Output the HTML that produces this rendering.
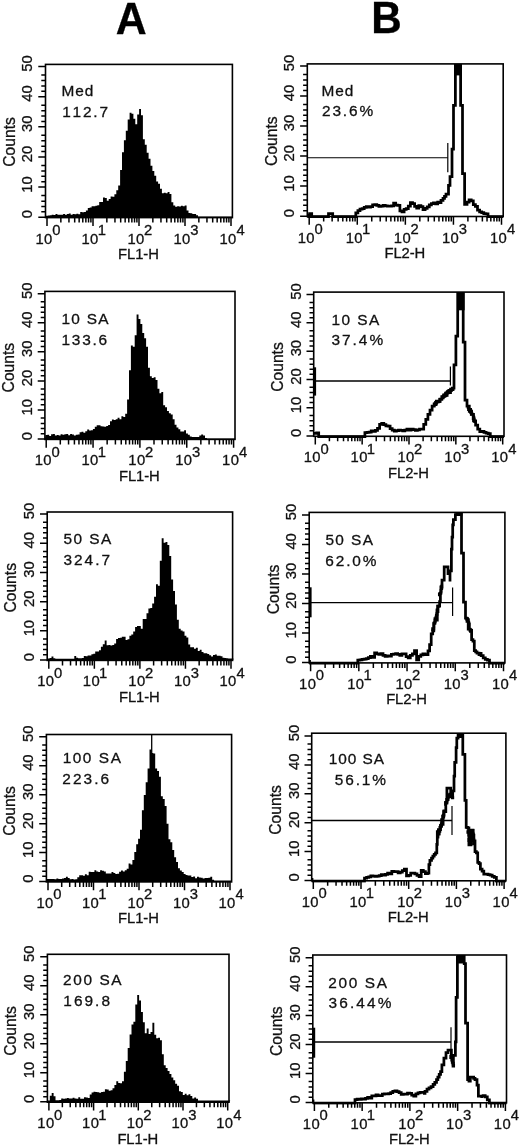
<!DOCTYPE html>
<html><head><meta charset="utf-8"><title>Figure</title>
<style>
html,body{margin:0;padding:0;background:#fff;}
body{width:520px;height:1146px;overflow:hidden;}
svg{display:block;}
text{font-family:"Liberation Sans", sans-serif;fill:#111;stroke:#111;stroke-width:0.3px;}
svg{filter:grayscale(1);}
</style></head>
<body>
<svg width="520" height="1146" viewBox="0 0 520 1146">
<defs><clipPath id="cB1"><rect x="307.3" y="63.9" width="195.9" height="154.6"/></clipPath><clipPath id="cB2"><rect x="313.7" y="292.1" width="190.3" height="146.2"/></clipPath><clipPath id="cB3"><rect x="309.2" y="512.4" width="195.7" height="152.5"/></clipPath><clipPath id="cB4"><rect x="311.7" y="733.2" width="194.2" height="149.6"/></clipPath><clipPath id="cB5"><rect x="312.8" y="955" width="193.7" height="149.8"/></clipPath></defs>
<rect width="520" height="1146" fill="#fff"/>
<text x="0" y="0" transform="translate(131.2 33.8) scale(0.985 1)" text-anchor="middle" font-size="43.5" font-weight="bold" style="fill:#000;stroke:#000;stroke-width:0.3px">A</text>
<text x="0" y="0" transform="translate(386.4 33.2) scale(0.97 1)" text-anchor="middle" font-size="43.5" font-weight="bold" style="fill:#000;stroke:#000;stroke-width:0.3px">B</text>
<path d="M45.5,217.6 L46,215.76 L47.9,215.76 L47.9,215.55 L49.8,215.55 L49.8,215.2 L51.7,215.2 L51.7,214.79 L53.6,214.79 L53.6,214.88 L55.5,214.88 L55.5,214.06 L57.4,214.06 L57.4,214.86 L59.3,214.86 L59.3,214.74 L61.2,214.74 L61.2,214.86 L63.1,214.86 L63.1,213.93 L65,213.93 L65,214.65 L66.9,214.65 L66.9,214.05 L68.8,214.05 L68.8,213.38 L70.7,213.38 L70.7,214.79 L72.6,214.79 L72.6,213.88 L74.5,213.88 L74.5,214.23 L76.4,214.23 L76.4,213.85 L78.3,213.85 L78.3,214.15 L80.2,214.15 L80.2,212.11 L82.1,212.11 L82.1,212.17 L84,212.17 L84,212.02 L85.9,212.02 L85.9,210.49 L87.8,210.49 L87.8,208.01 L89.7,208.01 L89.7,207.38 L91.6,207.38 L91.6,206.22 L93.5,206.22 L93.5,206.26 L95.4,206.26 L95.4,205.69 L97.3,205.69 L97.3,205.17 L99.2,205.17 L99.2,201.97 L101.1,201.97 L101.1,202.1 L103,202.1 L103,197.54 L104.9,197.54 L104.9,197.93 L106.8,197.93 L106.8,200.79 L108.7,200.79 L108.7,199.05 L110.6,199.05 L110.6,196.6 L112.5,196.6 L112.5,196.65 L114.4,196.65 L114.4,194.37 L116.3,194.37 L116.3,190.17 L118.2,190.17 L118.2,185.62 L120.1,185.62 L120.1,170.03 L122,170.03 L122,152.28 L123.9,152.28 L123.9,140.19 L125.8,140.19 L125.8,130.84 L127.7,130.84 L127.7,119.43 L129.6,119.43 L129.6,112.67 L131.5,112.67 L131.5,113.73 L133.4,113.73 L133.4,118.86 L135.3,118.86 L135.3,124.17 L137.2,124.17 L137.2,114.56 L139.1,114.56 L139.1,108.88 L141,108.88 L141,115.23 L142.9,115.23 L142.9,139.13 L144.8,139.13 L144.8,144.78 L146.7,144.78 L146.7,152.86 L148.6,152.86 L148.6,158.79 L150.5,158.79 L150.5,165.73 L152.4,165.73 L152.4,171.09 L154.3,171.09 L154.3,175.65 L156.2,175.65 L156.2,181.62 L158.1,181.62 L158.1,183.66 L160,183.66 L160,188.84 L161.9,188.84 L161.9,193.24 L163.8,193.24 L163.8,192.76 L165.7,192.76 L165.7,193.34 L167.6,193.34 L167.6,191.88 L169.5,191.88 L169.5,193.93 L171.4,193.93 L171.4,202.16 L173.3,202.16 L173.3,205.62 L175.2,205.62 L175.2,206.73 L177.1,206.73 L177.1,206.21 L179,206.21 L179,206.42 L180.9,206.42 L180.9,205.81 L182.8,205.81 L182.8,206.3 L184.7,206.3 L184.7,205.55 L186.6,205.55 L186.6,210.6 L188.5,210.6 L188.5,212.97 L190.4,212.97 L190.4,213.22 L192.3,213.22 L192.3,213.9 L194.2,213.9 L194.2,214.12 L196.1,214.12 L196.1,215.34 L198,215.34 L198,216.38 L199.9,216.38 L199.9,216.5 L201.8,216.5 L201.8,216.5 L203.7,216.5 L203.7,216.5 L205.6,216.5 L205.6,216.5 L207.5,216.5 L207.5,216.5 L209.4,216.5 L209.4,216.5 L211.3,216.5 L211.3,216.5 L213.2,216.5 L213.2,216.5 L215.1,216.5 L215.1,216.5 L217,216.5 L217,216.5 L218.9,216.5 L218.9,216.5 L220.8,216.5 L220.8,216.5 L222.7,216.5 L222.7,216.5 L224.6,216.5 L224.6,216.5 L226.5,216.5 L226.5,216.5 L228.4,216.5 L228.4,216.5 L230.3,216.5 L230.3,216.5 L232.2,216.5 L232.4,217.6 Z" fill="#000"/>
<rect x="45.5" y="64.4" width="186.9" height="153.2" fill="none" stroke="#000" stroke-width="1.6"/>
<path d="M38.3,217.25H45.5M41.3,211.83H45.5M41.3,206.4H45.5M41.3,201.13H45.5M41.3,195.56H45.5M38.3,187.12H45.5M41.3,181.7H45.5M41.3,176.27H45.5M41.3,171H45.5M41.3,165.43H45.5M38.3,156.99H45.5M41.3,151.57H45.5M41.3,146.14H45.5M41.3,140.87H45.5M41.3,135.3H45.5M38.3,126.86H45.5M41.3,121.44H45.5M41.3,116.01H45.5M41.3,110.74H45.5M41.3,105.17H45.5M38.3,96.73H45.5M41.3,91.31H45.5M41.3,85.88H45.5M41.3,80.61H45.5M41.3,75.04H45.5M38.3,66.6H45.5M47,217.6V225.9M60.85,217.6V222.6M68.95,217.6V222.6M74.69,217.6V222.6M79.15,217.6V222.6M82.79,217.6V222.6M85.87,217.6V222.6M88.54,217.6V222.6M90.9,217.6V222.6M93,217.6V225.9M106.85,217.6V222.6M114.95,217.6V222.6M120.69,217.6V222.6M125.15,217.6V222.6M128.79,217.6V222.6M131.87,217.6V222.6M134.54,217.6V222.6M136.9,217.6V222.6M139,217.6V225.9M152.85,217.6V222.6M160.95,217.6V222.6M166.69,217.6V222.6M171.15,217.6V222.6M174.79,217.6V222.6M177.87,217.6V222.6M180.54,217.6V222.6M182.9,217.6V222.6M185,217.6V225.9M198.85,217.6V222.6M206.95,217.6V222.6M212.69,217.6V222.6M217.15,217.6V222.6M220.79,217.6V222.6M223.87,217.6V222.6M226.54,217.6V222.6M228.9,217.6V222.6M231,217.6V225.9" stroke="#000" stroke-width="1.5" fill="none"/>
<text x="-218.37" y="32.3" font-size="14.8" transform="rotate(-90)">0</text>
<text x="-192.63 -184.39" y="32.3" font-size="14.8" transform="rotate(-90)">10</text>
<text x="-162.3 -154.07" y="32.3" font-size="14.8" transform="rotate(-90)">20</text>
<text x="-132.08 -123.85" y="32.3" font-size="14.8" transform="rotate(-90)">30</text>
<text x="-101.84 -93.61" y="32.3" font-size="14.8" transform="rotate(-90)">40</text>
<text x="-71.84 -63.61" y="32.3" font-size="14.8" transform="rotate(-90)">50</text>
<text x="-166.74 -155.45 -146.75 -138.05 -129.35 -124.99" y="15.3" font-size="15.6" transform="rotate(-90)">Counts</text>
<text x="35.47 44.05" y="243.6" font-size="14.8">10</text>
<text x="52.22" y="235" font-size="14.8">0</text>
<text x="81.47 90.05" y="243.6" font-size="14.8">10</text>
<text x="97.67" y="235" font-size="14.8">1</text>
<text x="127.47 136.05" y="243.6" font-size="14.8">10</text>
<text x="144.06" y="235" font-size="14.8">2</text>
<text x="173.47 182.05" y="243.6" font-size="14.8">10</text>
<text x="190.24" y="235" font-size="14.8">3</text>
<text x="219.47 228.05" y="243.6" font-size="14.8">10</text>
<text x="236.46" y="235" font-size="14.8">4</text>
<text x="118.09 127.05 135.21 143.36 148.22" y="258.9" font-size="14.8">FL1-H</text>
<text x="61.54 75.21 84.63" y="95.9" font-size="15.4">Med</text>
<text x="62.13 72.52 82.91 93.3 99.41" y="117.3" font-size="15.4">112.7</text>
<path d="M44.9,439.4 L45.4,434.98 L47.3,434.98 L47.3,434.75 L49.2,434.75 L49.2,435.88 L51.1,435.88 L51.1,434.28 L53,434.28 L53,433.95 L54.9,433.95 L54.9,435.59 L56.8,435.59 L56.8,434.94 L58.7,434.94 L58.7,435.55 L60.6,435.55 L60.6,434.36 L62.5,434.36 L62.5,434.66 L64.4,434.66 L64.4,434.25 L66.3,434.25 L66.3,434.12 L68.2,434.12 L68.2,435.19 L70.1,435.19 L70.1,433.88 L72,433.88 L72,434.49 L73.9,434.49 L73.9,435.48 L75.8,435.48 L75.8,434.7 L77.7,434.7 L77.7,434.47 L79.6,434.47 L79.6,432.34 L81.5,432.34 L81.5,431.69 L83.4,431.69 L83.4,432.85 L85.3,432.85 L85.3,431.32 L87.2,431.32 L87.2,429.47 L89.1,429.47 L89.1,430.44 L91,430.44 L91,430.16 L92.9,430.16 L92.9,429.05 L94.8,429.05 L94.8,426.74 L96.7,426.74 L96.7,425.18 L98.6,425.18 L98.6,425.18 L100.5,425.18 L100.5,426.21 L102.4,426.21 L102.4,426.49 L104.3,426.49 L104.3,426.76 L106.2,426.76 L106.2,425.95 L108.1,425.95 L108.1,424.92 L110,424.92 L110,421.22 L111.9,421.22 L111.9,419.4 L113.8,419.4 L113.8,420.02 L115.7,420.02 L115.7,419.29 L117.6,419.29 L117.6,417.86 L119.5,417.86 L119.5,419.17 L121.4,419.17 L121.4,416.34 L123.3,416.34 L123.3,416.98 L125.2,416.98 L125.2,413.86 L127.1,413.86 L127.1,399.38 L129,399.38 L129,370.18 L130.9,370.18 L130.9,345.44 L132.8,345.44 L132.8,346.76 L134.7,346.76 L134.7,335.17 L136.6,335.17 L136.6,314.62 L138.5,314.62 L138.5,318.99 L140.4,318.99 L140.4,324.07 L142.3,324.07 L142.3,332.91 L144.2,332.91 L144.2,338.29 L146.1,338.29 L146.1,346.63 L148,346.63 L148,367.82 L149.9,367.82 L149.9,376.23 L151.8,376.23 L151.8,377.99 L153.7,377.99 L153.7,377.29 L155.6,377.29 L155.6,379.98 L157.5,379.98 L157.5,388.86 L159.4,388.86 L159.4,393.25 L161.3,393.25 L161.3,392.02 L163.2,392.02 L163.2,405.19 L165.1,405.19 L165.1,407.19 L167,407.19 L167,411.12 L168.9,411.12 L168.9,413.18 L170.8,413.18 L170.8,414.51 L172.7,414.51 L172.7,419.3 L174.6,419.3 L174.6,424.66 L176.5,424.66 L176.5,427.55 L178.4,427.55 L178.4,429.18 L180.3,429.18 L180.3,431.48 L182.2,431.48 L182.2,431.6 L184.1,431.6 L184.1,430.19 L186,430.19 L186,433.44 L187.9,433.44 L187.9,434.72 L189.8,434.72 L189.8,436.5 L191.7,436.5 L191.7,437 L193.6,437 L193.6,437 L195.5,437 L195.5,437 L197.4,437 L197.4,437 L199.3,437 L199.3,435.42 L201.2,435.42 L201.2,434.49 L203.1,434.49 L203.1,435.61 L205,435.61 L205,437.9 L206.9,437.9 L206.9,438.5 L208.8,438.5 L208.8,438.5 L210.7,438.5 L210.7,438.5 L212.6,438.5 L212.6,438.5 L214.5,438.5 L214.5,438.5 L216.4,438.5 L216.4,438.5 L218.3,438.5 L218.3,438.5 L220.2,438.5 L220.2,438.5 L222.1,438.5 L222.1,438.5 L224,438.5 L224,438.5 L225.9,438.5 L225.9,438.5 L227.8,438.5 L227.8,438.5 L229.7,438.5 L229.7,438.5 L231.6,438.5 L231.6,438.5 L233.5,438.5 L233.5,438.5 L235.4,438.5 L235,439.4 Z" fill="#000"/>
<rect x="44.9" y="291.4" width="190.1" height="148" fill="none" stroke="#000" stroke-width="1.6"/>
<path d="M37.7,439.05H44.9M40.7,433.82H44.9M40.7,428.58H44.9M40.7,423.5H44.9M40.7,418.12H44.9M37.7,409.98H44.9M40.7,404.75H44.9M40.7,399.51H44.9M40.7,394.43H44.9M40.7,389.05H44.9M37.7,380.91H44.9M40.7,375.68H44.9M40.7,370.44H44.9M40.7,365.36H44.9M40.7,359.98H44.9M37.7,351.84H44.9M40.7,346.61H44.9M40.7,341.37H44.9M40.7,336.29H44.9M40.7,330.91H44.9M37.7,322.77H44.9M40.7,317.54H44.9M40.7,312.3H44.9M40.7,307.22H44.9M40.7,301.84H44.9M37.7,293.7H44.9M46.2,439.4V447.7M60.3,439.4V444.4M68.55,439.4V444.4M74.41,439.4V444.4M78.95,439.4V444.4M82.66,439.4V444.4M85.79,439.4V444.4M88.51,439.4V444.4M90.91,439.4V444.4M93.05,439.4V447.7M107.15,439.4V444.4M115.4,439.4V444.4M121.26,439.4V444.4M125.8,439.4V444.4M129.51,439.4V444.4M132.64,439.4V444.4M135.36,439.4V444.4M137.76,439.4V444.4M139.9,439.4V447.7M154,439.4V444.4M162.25,439.4V444.4M168.11,439.4V444.4M172.65,439.4V444.4M176.36,439.4V444.4M179.49,439.4V444.4M182.21,439.4V444.4M184.61,439.4V444.4M186.75,439.4V447.7M200.85,439.4V444.4M209.1,439.4V444.4M214.96,439.4V444.4M219.5,439.4V444.4M223.21,439.4V444.4M226.34,439.4V444.4M229.06,439.4V444.4M231.46,439.4V444.4M233.6,439.4V447.7" stroke="#000" stroke-width="1.5" fill="none"/>
<text x="-440.17" y="31.7" font-size="14.8" transform="rotate(-90)">0</text>
<text x="-415.49 -407.25" y="31.7" font-size="14.8" transform="rotate(-90)">10</text>
<text x="-386.22 -377.99" y="31.7" font-size="14.8" transform="rotate(-90)">20</text>
<text x="-357.06 -348.83" y="31.7" font-size="14.8" transform="rotate(-90)">30</text>
<text x="-327.88 -319.65" y="31.7" font-size="14.8" transform="rotate(-90)">40</text>
<text x="-298.94 -290.71" y="31.7" font-size="14.8" transform="rotate(-90)">50</text>
<text x="-392.39 -381.1 -372.4 -363.7 -355 -350.64" y="14.4" font-size="15.6" transform="rotate(-90)">Counts</text>
<text x="34.67 43.25" y="465.4" font-size="14.8">10</text>
<text x="51.42" y="456.8" font-size="14.8">0</text>
<text x="81.52 90.1" y="465.4" font-size="14.8">10</text>
<text x="97.72" y="456.8" font-size="14.8">1</text>
<text x="128.37 136.95" y="465.4" font-size="14.8">10</text>
<text x="144.96" y="456.8" font-size="14.8">2</text>
<text x="175.22 183.8" y="465.4" font-size="14.8">10</text>
<text x="191.99" y="456.8" font-size="14.8">3</text>
<text x="222.07 230.65" y="465.4" font-size="14.8">10</text>
<text x="239.06" y="456.8" font-size="14.8">4</text>
<text x="118.99 127.95 136.11 144.26 149.12" y="480.7" font-size="14.8">FL1-H</text>
<text x="61.53 71.35 81.18 86.72 98.26" y="323.6" font-size="15.4">10 SA</text>
<text x="61.53 71.87 82.21 92.56 98.61" y="344.5" font-size="15.4">133.6</text>
<path d="M47.2,660.4 L47.7,658.5 L49.6,658.5 L49.6,657.96 L51.5,657.96 L51.5,656.39 L53.4,656.39 L53.4,658.36 L55.3,658.36 L55.3,658.8 L57.2,658.8 L57.2,658.8 L59.1,658.8 L59.1,658.8 L61,658.8 L61,658.8 L62.9,658.8 L62.9,658.8 L64.8,658.8 L64.8,658.8 L66.7,658.8 L66.7,658.8 L68.6,658.8 L68.6,658.8 L70.5,658.8 L70.5,658.8 L72.4,658.8 L72.4,658.76 L74.3,658.76 L74.3,655.98 L76.2,655.98 L76.2,657.86 L78.1,657.86 L78.1,658.31 L80,658.31 L80,658.17 L81.9,658.17 L81.9,658.03 L83.8,658.03 L83.8,655.96 L85.7,655.96 L85.7,656.3 L87.6,656.3 L87.6,655.4 L89.5,655.4 L89.5,655.39 L91.4,655.39 L91.4,654.32 L93.3,654.32 L93.3,653.79 L95.2,653.79 L95.2,651.5 L97.1,651.5 L97.1,651.39 L99,651.39 L99,650.13 L100.9,650.13 L100.9,646.63 L102.8,646.63 L102.8,644.17 L104.7,644.17 L104.7,640.5 L106.6,640.5 L106.6,645.37 L108.5,645.37 L108.5,644.9 L110.4,644.9 L110.4,645.53 L112.3,645.53 L112.3,644.89 L114.2,644.89 L114.2,643.39 L116.1,643.39 L116.1,638.98 L118,638.98 L118,637.95 L119.9,637.95 L119.9,637.63 L121.8,637.63 L121.8,636.75 L123.7,636.75 L123.7,636.65 L125.6,636.65 L125.6,640.09 L127.5,640.09 L127.5,639.14 L129.4,639.14 L129.4,635.76 L131.3,635.76 L131.3,634.58 L133.2,634.58 L133.2,631.43 L135.1,631.43 L135.1,627.06 L137,627.06 L137,625.93 L138.9,625.93 L138.9,626.02 L140.8,626.02 L140.8,628.82 L142.7,628.82 L142.7,619.05 L144.6,619.05 L144.6,619.03 L146.5,619.03 L146.5,613.29 L148.4,613.29 L148.4,608.39 L150.3,608.39 L150.3,607.88 L152.2,607.88 L152.2,603.52 L154.1,603.52 L154.1,596.68 L156,596.68 L156,584.14 L157.9,584.14 L157.9,585.7 L159.8,585.7 L159.8,560.65 L161.7,560.65 L161.7,538.13 L163.6,538.13 L163.6,542.84 L165.5,542.84 L165.5,542.09 L167.4,542.09 L167.4,545.08 L169.3,545.08 L169.3,555.92 L171.2,555.92 L171.2,579.62 L173.1,579.62 L173.1,591 L175,591 L175,604.45 L176.9,604.45 L176.9,619.75 L178.8,619.75 L178.8,628.66 L180.7,628.66 L180.7,630.6 L182.6,630.6 L182.6,631.38 L184.5,631.38 L184.5,635.67 L186.4,635.67 L186.4,637.42 L188.3,637.42 L188.3,644.39 L190.2,644.39 L190.2,647.15 L192.1,647.15 L192.1,647.29 L194,647.29 L194,648.73 L195.9,648.73 L195.9,647.87 L197.8,647.87 L197.8,650.95 L199.7,650.95 L199.7,649.83 L201.6,649.83 L201.6,651.93 L203.5,651.93 L203.5,653.37 L205.4,653.37 L205.4,653.31 L207.3,653.31 L207.3,654.09 L209.2,654.09 L209.2,655.14 L211.1,655.14 L211.1,656.52 L213,656.52 L213,655.11 L214.9,655.11 L214.9,654.55 L216.8,654.55 L216.8,655.7 L218.7,655.7 L218.7,655.71 L220.6,655.71 L220.6,656.33 L222.5,656.33 L222.5,657.63 L224.4,657.63 L224.4,658.11 L226.3,658.11 L226.3,658.27 L228.2,658.27 L228.2,658.44 L230.1,658.44 L230.1,658.61 L232,658.61 L232,658.78 L233.9,658.78 L232.6,660.4 Z" fill="#000"/>
<rect x="47.2" y="512" width="185.4" height="148.4" fill="none" stroke="#000" stroke-width="1.6"/>
<path d="M40,660.05H47.2M43,654.8H47.2M43,649.54H47.2M43,644.43H47.2M43,639.03H47.2M40,630.86H47.2M43,625.61H47.2M43,620.35H47.2M43,615.24H47.2M43,609.84H47.2M40,601.67H47.2M43,596.42H47.2M43,591.16H47.2M43,586.05H47.2M43,580.65H47.2M40,572.48H47.2M43,567.23H47.2M43,561.97H47.2M43,556.86H47.2M43,551.46H47.2M40,543.29H47.2M43,538.04H47.2M43,532.78H47.2M43,527.67H47.2M43,522.27H47.2M40,514.1H47.2M48.8,660.4V668.7M62.51,660.4V665.4M70.53,660.4V665.4M76.22,660.4V665.4M80.64,660.4V665.4M84.24,660.4V665.4M87.29,660.4V665.4M89.94,660.4V665.4M92.27,660.4V665.4M94.35,660.4V668.7M108.06,660.4V665.4M116.08,660.4V665.4M121.77,660.4V665.4M126.19,660.4V665.4M129.79,660.4V665.4M132.84,660.4V665.4M135.49,660.4V665.4M137.82,660.4V665.4M139.9,660.4V668.7M153.61,660.4V665.4M161.63,660.4V665.4M167.32,660.4V665.4M171.74,660.4V665.4M175.34,660.4V665.4M178.39,660.4V665.4M181.04,660.4V665.4M183.37,660.4V665.4M185.45,660.4V668.7M199.16,660.4V665.4M207.18,660.4V665.4M212.87,660.4V665.4M217.29,660.4V665.4M220.89,660.4V665.4M223.94,660.4V665.4M226.59,660.4V665.4M228.92,660.4V665.4M231,660.4V668.7" stroke="#000" stroke-width="1.5" fill="none"/>
<text x="-661.17" y="34" font-size="14.8" transform="rotate(-90)">0</text>
<text x="-636.37 -628.13" y="34" font-size="14.8" transform="rotate(-90)">10</text>
<text x="-606.98 -598.75" y="34" font-size="14.8" transform="rotate(-90)">20</text>
<text x="-577.7 -569.47" y="34" font-size="14.8" transform="rotate(-90)">30</text>
<text x="-548.4 -540.17" y="34" font-size="14.8" transform="rotate(-90)">40</text>
<text x="-519.34 -511.11" y="34" font-size="14.8" transform="rotate(-90)">50</text>
<text x="-612.59 -601.3 -592.6 -583.9 -575.2 -570.84" y="16.2" font-size="15.6" transform="rotate(-90)">Counts</text>
<text x="37.27 45.85" y="686.4" font-size="14.8">10</text>
<text x="54.02" y="677.8" font-size="14.8">0</text>
<text x="82.82 91.4" y="686.4" font-size="14.8">10</text>
<text x="99.02" y="677.8" font-size="14.8">1</text>
<text x="128.37 136.95" y="686.4" font-size="14.8">10</text>
<text x="144.96" y="677.8" font-size="14.8">2</text>
<text x="173.92 182.5" y="686.4" font-size="14.8">10</text>
<text x="190.69" y="677.8" font-size="14.8">3</text>
<text x="219.47 228.05" y="686.4" font-size="14.8">10</text>
<text x="236.46" y="677.8" font-size="14.8">4</text>
<text x="118.99 127.95 136.11 144.26 149.12" y="701.7" font-size="14.8">FL1-H</text>
<text x="63.38 73.42 83.46 89.21 100.96" y="544.3" font-size="15.4">50 SA</text>
<text x="63.41 73.98 84.55 95.13 101.41" y="565.2" font-size="15.4">324.7</text>
<path d="M46.4,881.9 L46.9,878.97 L48.8,878.97 L48.8,878.95 L50.7,878.95 L50.7,878.93 L52.6,878.93 L52.6,878.91 L54.5,878.91 L54.5,879.19 L56.4,879.19 L56.4,878.62 L58.3,878.62 L58.3,878.96 L60.2,878.96 L60.2,878.91 L62.1,878.91 L62.1,878.47 L64,878.47 L64,878.05 L65.9,878.05 L65.9,876.76 L67.8,876.76 L67.8,878.11 L69.7,878.11 L69.7,879.37 L71.6,879.37 L71.6,878.94 L73.5,878.94 L73.5,879.4 L75.4,879.4 L75.4,879.21 L77.3,879.21 L77.3,877.3 L79.2,877.3 L79.2,875.2 L81.1,875.2 L81.1,875.36 L83,875.36 L83,875.87 L84.9,875.87 L84.9,874.28 L86.8,874.28 L86.8,875.37 L88.7,875.37 L88.7,871.63 L90.6,871.63 L90.6,871.88 L92.5,871.88 L92.5,871.94 L94.4,871.94 L94.4,870.18 L96.3,870.18 L96.3,871.44 L98.2,871.44 L98.2,872.07 L100.1,872.07 L100.1,870.15 L102,870.15 L102,870.84 L103.9,870.84 L103.9,871.51 L105.8,871.51 L105.8,873.41 L107.7,873.41 L107.7,873.59 L109.6,873.59 L109.6,873.58 L111.5,873.58 L111.5,871.99 L113.4,871.99 L113.4,873.06 L115.3,873.06 L115.3,873.97 L117.2,873.97 L117.2,873.69 L119.1,873.69 L119.1,871.74 L121,871.74 L121,870.42 L122.9,870.42 L122.9,871.61 L124.8,871.61 L124.8,870.18 L126.7,870.18 L126.7,868.81 L128.6,868.81 L128.6,863.59 L130.5,863.59 L130.5,864.38 L132.4,864.38 L132.4,859.97 L134.3,859.97 L134.3,851.89 L136.2,851.89 L136.2,844.35 L138.1,844.35 L138.1,838.86 L140,838.86 L140,829.66 L141.9,829.66 L141.9,810.27 L143.8,810.27 L143.8,795.03 L145.7,795.03 L145.7,782.35 L147.6,782.35 L147.6,768.38 L149.5,768.38 L149.5,749.47 L151.4,749.47 L151.4,753.12 L153.3,753.12 L153.3,753.59 L155.2,753.59 L155.2,768.5 L157.1,768.5 L157.1,771.08 L159,771.08 L159,776.8 L160.9,776.8 L160.9,796.16 L162.8,796.16 L162.8,799.02 L164.7,799.02 L164.7,806.09 L166.6,806.09 L166.6,823.67 L168.5,823.67 L168.5,839.32 L170.4,839.32 L170.4,842.24 L172.3,842.24 L172.3,849.94 L174.2,849.94 L174.2,857.37 L176.1,857.37 L176.1,861.94 L178,861.94 L178,868.27 L179.9,868.27 L179.9,870.59 L181.8,870.59 L181.8,871.98 L183.7,871.98 L183.7,874.04 L185.6,874.04 L185.6,874.97 L187.5,874.97 L187.5,875.41 L189.4,875.41 L189.4,875.41 L191.3,875.41 L191.3,876.91 L193.2,876.91 L193.2,876.61 L195.1,876.61 L195.1,878.16 L197,878.16 L197,876.8 L198.9,876.8 L198.9,877.5 L200.8,877.5 L200.8,877.79 L202.7,877.79 L202.7,878.61 L204.6,878.61 L204.6,878.1 L206.5,878.1 L206.5,877.98 L208.4,877.98 L208.4,877.63 L210.3,877.63 L210.3,876.75 L212.2,876.75 L212.2,879.68 L214.1,879.68 L214.1,880.5 L216,880.5 L216,880.5 L217.9,880.5 L217.9,880.5 L219.8,880.5 L219.8,880.5 L221.7,880.5 L221.7,880.5 L223.6,880.5 L223.6,880.5 L225.5,880.5 L225.5,880.5 L227.4,880.5 L227.4,880.5 L229.3,880.5 L229.3,880.5 L231.2,880.5 L231.6,881.9 Z" fill="#000"/>
<line x1="151.7" y1="734.5" x2="151.7" y2="753" stroke="#000" stroke-width="1.3"/>
<rect x="46.4" y="734.5" width="185.2" height="147.4" fill="none" stroke="#000" stroke-width="1.6"/>
<path d="M39.2,881.55H46.4M42.2,876.34H46.4M42.2,871.13H46.4M42.2,866.06H46.4M42.2,860.71H46.4M39.2,852.6H46.4M42.2,847.39H46.4M42.2,842.18H46.4M42.2,837.11H46.4M42.2,831.76H46.4M39.2,823.65H46.4M42.2,818.44H46.4M42.2,813.23H46.4M42.2,808.16H46.4M42.2,802.81H46.4M39.2,794.7H46.4M42.2,789.49H46.4M42.2,784.28H46.4M42.2,779.21H46.4M42.2,773.86H46.4M39.2,765.75H46.4M42.2,760.54H46.4M42.2,755.33H46.4M42.2,750.26H46.4M42.2,744.91H46.4M39.2,736.8H46.4M48,881.9V890.2M61.7,881.9V886.9M69.71,881.9V886.9M75.39,881.9V886.9M79.8,881.9V886.9M83.41,881.9V886.9M86.45,881.9V886.9M89.09,881.9V886.9M91.42,881.9V886.9M93.5,881.9V890.2M107.2,881.9V886.9M115.21,881.9V886.9M120.89,881.9V886.9M125.3,881.9V886.9M128.91,881.9V886.9M131.95,881.9V886.9M134.59,881.9V886.9M136.92,881.9V886.9M139,881.9V890.2M152.7,881.9V886.9M160.71,881.9V886.9M166.39,881.9V886.9M170.8,881.9V886.9M174.41,881.9V886.9M177.45,881.9V886.9M180.09,881.9V886.9M182.42,881.9V886.9M184.5,881.9V890.2M198.2,881.9V886.9M206.21,881.9V886.9M211.89,881.9V886.9M216.3,881.9V886.9M219.91,881.9V886.9M222.95,881.9V886.9M225.59,881.9V886.9M227.92,881.9V886.9M230,881.9V890.2" stroke="#000" stroke-width="1.5" fill="none"/>
<text x="-882.67" y="33.2" font-size="14.8" transform="rotate(-90)">0</text>
<text x="-858.11 -849.87" y="33.2" font-size="14.8" transform="rotate(-90)">10</text>
<text x="-828.96 -820.73" y="33.2" font-size="14.8" transform="rotate(-90)">20</text>
<text x="-799.92 -791.69" y="33.2" font-size="14.8" transform="rotate(-90)">30</text>
<text x="-770.86 -762.63" y="33.2" font-size="14.8" transform="rotate(-90)">40</text>
<text x="-742.04 -733.81" y="33.2" font-size="14.8" transform="rotate(-90)">50</text>
<text x="-835.69 -824.4 -815.7 -807 -798.3 -793.94" y="15.3" font-size="15.6" transform="rotate(-90)">Counts</text>
<text x="36.47 45.05" y="907.9" font-size="14.8">10</text>
<text x="53.22" y="899.3" font-size="14.8">0</text>
<text x="81.97 90.55" y="907.9" font-size="14.8">10</text>
<text x="98.17" y="899.3" font-size="14.8">1</text>
<text x="127.47 136.05" y="907.9" font-size="14.8">10</text>
<text x="144.06" y="899.3" font-size="14.8">2</text>
<text x="172.97 181.55" y="907.9" font-size="14.8">10</text>
<text x="189.74" y="899.3" font-size="14.8">3</text>
<text x="218.47 227.05" y="907.9" font-size="14.8">10</text>
<text x="235.46" y="899.3" font-size="14.8">4</text>
<text x="118.09 127.05 135.21 143.36 148.22" y="923.2" font-size="14.8">FL1-H</text>
<text x="62.63 72.75 82.87 92.99 98.83 110.66" y="762.8" font-size="15.4">100 SA</text>
<text x="62.23 72.89 83.56 94.23 100.61" y="784" font-size="15.4">223.6</text>
<path d="M47.4,1102.2 L47.9,1100.5 L49.8,1100.5 L49.8,1095.64 L51.7,1095.64 L51.7,1093.11 L53.6,1093.11 L53.6,1096.26 L55.5,1096.26 L55.5,1100.35 L57.4,1100.35 L57.4,1100.21 L59.3,1100.21 L59.3,1100.08 L61.2,1100.08 L61.2,1098.46 L63.1,1098.46 L63.1,1098.8 L65,1098.8 L65,1098.54 L66.9,1098.54 L66.9,1098.06 L68.8,1098.06 L68.8,1098.54 L70.7,1098.54 L70.7,1098.43 L72.6,1098.43 L72.6,1097.7 L74.5,1097.7 L74.5,1098.61 L76.4,1098.61 L76.4,1098.84 L78.3,1098.84 L78.3,1097.36 L80.2,1097.36 L80.2,1098.64 L82.1,1098.64 L82.1,1098.67 L84,1098.67 L84,1097.22 L85.9,1097.22 L85.9,1097.42 L87.8,1097.42 L87.8,1097.91 L89.7,1097.91 L89.7,1094.51 L91.6,1094.51 L91.6,1092.41 L93.5,1092.41 L93.5,1091.66 L95.4,1091.66 L95.4,1091.99 L97.3,1091.99 L97.3,1092.21 L99.2,1092.21 L99.2,1092.78 L101.1,1092.78 L101.1,1092.06 L103,1092.06 L103,1091.85 L104.9,1091.85 L104.9,1089.13 L106.8,1089.13 L106.8,1089.61 L108.7,1089.61 L108.7,1090.72 L110.6,1090.72 L110.6,1090.21 L112.5,1090.21 L112.5,1088.24 L114.4,1088.24 L114.4,1084.91 L116.3,1084.91 L116.3,1081.21 L118.2,1081.21 L118.2,1082.98 L120.1,1082.98 L120.1,1083.22 L122,1083.22 L122,1081.23 L123.9,1081.23 L123.9,1071.78 L125.8,1071.78 L125.8,1060.88 L127.7,1060.88 L127.7,1047.9 L129.6,1047.9 L129.6,1034.42 L131.5,1034.42 L131.5,1024.45 L133.4,1024.45 L133.4,1021.77 L135.3,1021.77 L135.3,1004.61 L137.2,1004.61 L137.2,995.01 L139.1,995.01 L139.1,1000.4 L141,1000.4 L141,1012.01 L142.9,1012.01 L142.9,1022.37 L144.8,1022.37 L144.8,1033.18 L146.7,1033.18 L146.7,1028.47 L148.6,1028.47 L148.6,1033.94 L150.5,1033.94 L150.5,1031.92 L152.4,1031.92 L152.4,1022.67 L154.3,1022.67 L154.3,1034.63 L156.2,1034.63 L156.2,1038.2 L158.1,1038.2 L158.1,1037.82 L160,1037.82 L160,1040.24 L161.9,1040.24 L161.9,1054.26 L163.8,1054.26 L163.8,1065.25 L165.7,1065.25 L165.7,1067.88 L167.6,1067.88 L167.6,1071 L169.5,1071 L169.5,1074.02 L171.4,1074.02 L171.4,1077.55 L173.3,1077.55 L173.3,1080.36 L175.2,1080.36 L175.2,1083.65 L177.1,1083.65 L177.1,1085.63 L179,1085.63 L179,1091.3 L180.9,1091.3 L180.9,1092.04 L182.8,1092.04 L182.8,1094.88 L184.7,1094.88 L184.7,1093.87 L186.6,1093.87 L186.6,1095.36 L188.5,1095.36 L188.5,1094.29 L190.4,1094.29 L190.4,1095.95 L192.3,1095.95 L192.3,1098.41 L194.2,1098.41 L194.2,1097.45 L196.1,1097.45 L196.1,1098.82 L198,1098.82 L198,1100.5 L199.9,1100.5 L199.9,1100.5 L201.8,1100.5 L201.8,1100.5 L203.7,1100.5 L203.7,1100.5 L205.6,1100.5 L205.6,1100.5 L207.5,1100.5 L207.5,1100.5 L209.4,1100.5 L209.4,1100.5 L211.3,1100.5 L211.3,1100.5 L213.2,1100.5 L213.2,1100.5 L215.1,1100.5 L215.1,1100.5 L217,1100.5 L217,1100.5 L218.9,1100.5 L218.9,1100.5 L220.8,1100.5 L220.8,1100.5 L222.7,1100.5 L222.7,1100.5 L224.6,1100.5 L224.6,1100.5 L226.5,1100.5 L226.5,1100.5 L228.4,1100.5 L228.4,1100.5 L230.3,1100.5 L229,1102.2 Z" fill="#000"/>
<rect x="47.4" y="954.3" width="181.6" height="147.9" fill="none" stroke="#000" stroke-width="1.6"/>
<path d="M40.2,1101.85H47.4M43.2,1096.63H47.4M43.2,1091.41H47.4M43.2,1086.33H47.4M43.2,1080.96H47.4M40.2,1072.84H47.4M43.2,1067.62H47.4M43.2,1062.4H47.4M43.2,1057.32H47.4M43.2,1051.95H47.4M40.2,1043.83H47.4M43.2,1038.61H47.4M43.2,1033.39H47.4M43.2,1028.31H47.4M43.2,1022.94H47.4M40.2,1014.82H47.4M43.2,1009.6H47.4M43.2,1004.38H47.4M43.2,999.3H47.4M43.2,993.93H47.4M40.2,985.81H47.4M43.2,980.59H47.4M43.2,975.37H47.4M43.2,970.29H47.4M43.2,964.92H47.4M40.2,956.8H47.4M48.9,1102.2V1110.5M62.36,1102.2V1107.2M70.23,1102.2V1107.2M75.81,1102.2V1107.2M80.14,1102.2V1107.2M83.68,1102.2V1107.2M86.68,1102.2V1107.2M89.27,1102.2V1107.2M91.55,1102.2V1107.2M93.6,1102.2V1110.5M107.06,1102.2V1107.2M114.93,1102.2V1107.2M120.51,1102.2V1107.2M124.84,1102.2V1107.2M128.38,1102.2V1107.2M131.38,1102.2V1107.2M133.97,1102.2V1107.2M136.25,1102.2V1107.2M138.3,1102.2V1110.5M151.76,1102.2V1107.2M159.63,1102.2V1107.2M165.21,1102.2V1107.2M169.54,1102.2V1107.2M173.08,1102.2V1107.2M176.08,1102.2V1107.2M178.67,1102.2V1107.2M180.95,1102.2V1107.2M183,1102.2V1110.5M196.46,1102.2V1107.2M204.33,1102.2V1107.2M209.91,1102.2V1107.2M214.24,1102.2V1107.2M217.78,1102.2V1107.2M220.78,1102.2V1107.2M223.37,1102.2V1107.2M225.65,1102.2V1107.2M227.7,1102.2V1110.5" stroke="#000" stroke-width="1.5" fill="none"/>
<text x="-1102.97" y="34.2" font-size="14.8" transform="rotate(-90)">0</text>
<text x="-1078.35 -1070.11" y="34.2" font-size="14.8" transform="rotate(-90)">10</text>
<text x="-1049.14 -1040.91" y="34.2" font-size="14.8" transform="rotate(-90)">20</text>
<text x="-1020.04 -1011.81" y="34.2" font-size="14.8" transform="rotate(-90)">30</text>
<text x="-990.92 -982.69" y="34.2" font-size="14.8" transform="rotate(-90)">40</text>
<text x="-962.04 -953.81" y="34.2" font-size="14.8" transform="rotate(-90)">50</text>
<text x="-1055.69 -1044.4 -1035.7 -1027 -1018.3 -1013.94" y="16.3" font-size="15.6" transform="rotate(-90)">Counts</text>
<text x="37.37 45.95" y="1128.2" font-size="14.8">10</text>
<text x="54.12" y="1119.6" font-size="14.8">0</text>
<text x="82.07 90.65" y="1128.2" font-size="14.8">10</text>
<text x="98.27" y="1119.6" font-size="14.8">1</text>
<text x="126.77 135.35" y="1128.2" font-size="14.8">10</text>
<text x="143.36" y="1119.6" font-size="14.8">2</text>
<text x="171.47 180.05" y="1128.2" font-size="14.8">10</text>
<text x="188.24" y="1119.6" font-size="14.8">3</text>
<text x="216.17 224.75" y="1128.2" font-size="14.8">10</text>
<text x="233.16" y="1119.6" font-size="14.8">4</text>
<text x="117.39 126.35 134.51 142.66 147.52" y="1143.5" font-size="14.8">FL1-H</text>
<text x="63.03 73.21 83.39 93.57 99.47 111.36" y="985.1" font-size="15.4">200 SA</text>
<text x="63.33 73.92 84.51 95.1 101.4" y="1006" font-size="15.4">169.8</text>
<path d="M307.5,215 V216.7 H309.6 V213.68 H311.7 V216.7 H313.8 H315.9 H318 H320.1 H322.2 H324.3 H326.4 H328.5 V213.55 H330.6 V213.74 H332.7 V216.7 H334.8 H336.9 H339 H341.1 H343.2 H345.3 H347.4 H349.5 H351.6 H353.7 H355.8 V212.82 H357.9 V210.66 H360 V209.22 H362.1 V208.63 H364.2 V207.4 H366.3 V206.64 H368.4 V207.12 H370.5 V206.57 H372.6 V204.8 H374.7 V204.56 H376.8 V205.28 H378.9 V206.35 H381 V206.06 H383.1 V205.31 H385.2 V205.92 H387.3 V206.16 H389.4 H391.5 V205.92 H393.6 V203.23 H395.7 V205.16 H397.8 V205.45 H399.9 V210.82 H402 V211.91 H404.1 V209.31 H406.2 V208.6 H408.3 V206.13 H410.4 V202.51 H412.5 V203.7 H414.6 V206.26 H416.7 V208.01 H418.8 V205.67 H420.9 V206.5 H423 V209.56 H425.1 V208.26 H427.2 V206.85 H429.3 V204.95 H431.4 V203.53 H433.5 V202.94 H435.6 V203.84 H437.7 V202.11 H439.8 V202.7 H441 V200.3 H443 V198.3 H444.5 V196.3 H446 V194 H448.5 V185.3 H450 V176.7 H452 V149 H453.5 V105.3 H455.4 V60 H460.6 V105.3 H462.5 V173.7 H464.6 V204.3 H467 V202.02 H469.1 V199.98 H471.2 V200.81 H473.3 V204.74 H475.4 V206.42 H477.5 V210.04 H479.6 V211.77 H481.7 V212.54 H483.8 V213.51 H485.9 V213.76 H488 V216.7 H490.1 H492.2 H494.3 H496.4 H498.5 H500.6 H502.7" fill="none" stroke="#000" stroke-width="2.75" stroke-linejoin="miter" stroke-linecap="square" clip-path="url(#cB1)"/>
<rect x="454.6" y="63.9" width="7.3" height="11.5" fill="#000"/>
<line x1="307.3" y1="157.7" x2="447.8" y2="157.7" stroke="#000" stroke-width="1.1"/>
<line x1="447.8" y1="143.1" x2="447.8" y2="172.2" stroke="#000" stroke-width="1.2"/>
<rect x="307.3" y="63.9" width="195.9" height="152.6" fill="none" stroke="#000" stroke-width="1.6"/>
<path d="M300.1,216.15H307.3M303.1,210.74H307.3M303.1,205.34H307.3M303.1,200.08H307.3M303.1,194.53H307.3M300.1,186.12H307.3M303.1,180.71H307.3M303.1,175.31H307.3M303.1,170.05H307.3M303.1,164.5H307.3M300.1,156.09H307.3M303.1,150.68H307.3M303.1,145.28H307.3M303.1,140.02H307.3M303.1,134.47H307.3M300.1,126.06H307.3M303.1,120.65H307.3M303.1,115.25H307.3M303.1,109.99H307.3M303.1,104.44H307.3M300.1,96.03H307.3M303.1,90.62H307.3M303.1,85.22H307.3M303.1,79.96H307.3M303.1,74.41H307.3M300.1,66H307.3M309.2,216.5V224.8M323.67,216.5V221.5M332.14,216.5V221.5M338.14,216.5V221.5M342.8,216.5V221.5M346.61,216.5V221.5M349.83,216.5V221.5M352.62,216.5V221.5M355.08,216.5V221.5M357.27,216.5V224.8M371.75,216.5V221.5M380.21,216.5V221.5M386.22,216.5V221.5M390.88,216.5V221.5M394.68,216.5V221.5M397.9,216.5V221.5M400.69,216.5V221.5M403.15,216.5V221.5M405.35,216.5V224.8M419.82,216.5V221.5M428.29,216.5V221.5M434.29,216.5V221.5M438.95,216.5V221.5M442.76,216.5V221.5M445.98,216.5V221.5M448.77,216.5V221.5M451.23,216.5V221.5M453.43,216.5V224.8M467.9,216.5V221.5M476.36,216.5V221.5M482.37,216.5V221.5M487.03,216.5V221.5M490.83,216.5V221.5M494.05,216.5V221.5M496.84,216.5V221.5M499.3,216.5V221.5M501.5,216.5V224.8" stroke="#000" stroke-width="1.5" fill="none"/>
<text x="-217.27" y="294.1" font-size="14.8" transform="rotate(-90)">0</text>
<text x="-191.63 -183.39" y="294.1" font-size="14.8" transform="rotate(-90)">10</text>
<text x="-161.4 -153.17" y="294.1" font-size="14.8" transform="rotate(-90)">20</text>
<text x="-131.28 -123.05" y="294.1" font-size="14.8" transform="rotate(-90)">30</text>
<text x="-101.14 -92.91" y="294.1" font-size="14.8" transform="rotate(-90)">40</text>
<text x="-71.24 -63.01" y="294.1" font-size="14.8" transform="rotate(-90)">50</text>
<text x="-165.89 -154.6 -145.9 -137.2 -128.5 -124.14" y="277.4" font-size="15.6" transform="rotate(-90)">Counts</text>
<text x="297.67 306.25" y="242.5" font-size="14.8">10</text>
<text x="314.42" y="233.9" font-size="14.8">0</text>
<text x="345.75 354.32" y="242.5" font-size="14.8">10</text>
<text x="361.95" y="233.9" font-size="14.8">1</text>
<text x="393.82 402.4" y="242.5" font-size="14.8">10</text>
<text x="410.41" y="233.9" font-size="14.8">2</text>
<text x="441.9 450.47" y="242.5" font-size="14.8">10</text>
<text x="458.66" y="233.9" font-size="14.8">3</text>
<text x="489.97 498.55" y="242.5" font-size="14.8">10</text>
<text x="506.96" y="233.9" font-size="14.8">4</text>
<text x="384.44 393.4 401.56 409.71 414.57" y="257.8" font-size="14.8">FL2-H</text>
<text x="321.44 335.26 344.83" y="95.7" font-size="15.4">Med</text>
<text x="321.93 332.38 342.83 349 359.46" y="116.4" font-size="15.4">23.6%</text>
<path d="M314.5,433.38 H316.6 V432.9 H318.7 V436.5 H320.8 H322.9 H325 H327.1 H329.2 H331.3 H333.4 H335.5 H337.6 H339.7 H341.8 H343.9 H346 H348.1 H350.2 H352.3 H354.4 H356.5 H358.6 H360.7 H362.8 H364.9 V432.73 H367 V432.37 H369.1 V432.13 H371.2 V430.92 H373.3 V431.47 H375.4 V430.32 H377.5 V428.29 H379.6 V424.34 H381.7 V423.49 H383.8 V424.5 H385.9 V425.9 H388 V426.22 H390.1 V428.54 H392.2 V430.15 H394.3 V431.18 H396.4 V430.67 H398.5 V430.11 H400.6 V430.37 H402.7 V430.95 H404.8 V430.12 H406.9 V429.24 H409 V430.06 H411.1 V429.14 H413.2 V429.52 H415.3 V430.39 H417.4 V429.97 H419.5 V429.02 H421.6 H423.7 V424.28 H425.8 V419.38 H427.9 V414.38 H430 V410.18 H432.1 V406.03 H434.2 V403.91 H436.3 V401.06 H438.4 V401.49 H440 V399.04 H441.85 V396.6 H443.7 V394.8 H445.5 V393 H447.3 V391.73 H448.93 V390.47 H450.57 V389.2 H452.2 V388 H454 V364.8 H455.9 V336 H457.7 V288 H463.2 V342.2 H465 V400.2 H467 V406 H469.3 V410 V411.36 H471.4 V414.31 H473.5 V420.75 H475.6 V425.1 H477.7 V429.17 H479.8 V431.66 H481.9 V431.34 H484 V432.41 H486.1 V433.01 H488.2 V433.6 H490.3 V436.5 H492.4 H494.5 H496.6 H498.7 H500.8 H502.9 H504" fill="none" stroke="#000" stroke-width="2.75" stroke-linejoin="miter" stroke-linecap="square" clip-path="url(#cB2)"/>
<rect x="458.1" y="292.1" width="6.5" height="18.2" fill="#000"/>
<path d="M432.9,402.71h2.7v3.69h-2.7zM434.11,401.03h3.24v4.99h-3.24zM435.18,399.99h3.05v3.96h-3.05zM436.83,399.91h3.03v3.3h-3.03zM438.47,398.16h2.68v3.88h-2.68zM438.42,398.1h2.83v4.59h-2.83zM440.82,395.69h2.3v4.71h-2.3zM442.02,394.51h2.64v4.65h-2.64zM442.95,393.83h3.36v4.02h-3.36zM444.43,392.9h2.86v4.03h-2.86zM445.22,391.75h3.29v4.96h-3.29zM445.01,391.48h2.9v4.78h-2.9zM446.82,389.71h2.67v4.62h-2.67zM448.81,389.65h3.08v4.39h-3.08zM449.73,387.96h3.01v4.07h-3.01zM452.02,387.87h2.38v3.12h-2.38zM466.78,404.95h2.9v4.1h-2.9zM467.11,407.28h2.76v3.72h-2.76zM468.97,407.9h3.04v4.82h-3.04zM469.17,409.47h3.33v4.22h-3.33zM469.83,409.68h2.79v4.3h-2.79zM469.88,410.61h3.16v4.84h-3.16zM471.77,412.85h2.25v4.17h-2.25zM472.24,414.75h2.22v3.91h-2.22zM471.82,415.63h3.39v4.4h-3.39zM472.84,416.66h2.65v4.18h-2.65zM473.28,418.21h2.51v4.84h-2.51z" fill="#000"/>
<line x1="313.7" y1="381" x2="450.4" y2="381" stroke="#000" stroke-width="1.45"/>
<line x1="450.4" y1="366.5" x2="450.4" y2="385.5" stroke="#000" stroke-width="1.2"/>
<line x1="314.9" y1="367.3" x2="314.9" y2="395.6" stroke="#000" stroke-width="2.4"/>
<rect x="313.7" y="292.1" width="190.3" height="144.2" fill="none" stroke="#000" stroke-width="1.6"/>
<path d="M306.5,435.95H313.7M309.5,430.86H313.7M309.5,425.77H313.7M309.5,420.83H313.7M309.5,415.6H313.7M306.5,407.68H313.7M309.5,402.59H313.7M309.5,397.5H313.7M309.5,392.56H313.7M309.5,387.33H313.7M306.5,379.41H313.7M309.5,374.32H313.7M309.5,369.23H313.7M309.5,364.29H313.7M309.5,359.06H313.7M306.5,351.14H313.7M309.5,346.05H313.7M309.5,340.96H313.7M309.5,336.02H313.7M309.5,330.79H313.7M306.5,322.87H313.7M309.5,317.78H313.7M309.5,312.69H313.7M309.5,307.75H313.7M309.5,302.52H313.7M306.5,294.6H313.7M315.3,436.3V444.6M329.4,436.3V441.3M337.65,436.3V441.3M343.51,436.3V441.3M348.05,436.3V441.3M351.76,436.3V441.3M354.89,436.3V441.3M357.61,436.3V441.3M360.01,436.3V441.3M362.15,436.3V444.6M376.25,436.3V441.3M384.5,436.3V441.3M390.36,436.3V441.3M394.9,436.3V441.3M398.61,436.3V441.3M401.74,436.3V441.3M404.46,436.3V441.3M406.86,436.3V441.3M409,436.3V444.6M423.1,436.3V441.3M431.35,436.3V441.3M437.21,436.3V441.3M441.75,436.3V441.3M445.46,436.3V441.3M448.59,436.3V441.3M451.31,436.3V441.3M453.71,436.3V441.3M455.85,436.3V444.6M469.95,436.3V441.3M478.2,436.3V441.3M484.06,436.3V441.3M488.6,436.3V441.3M492.31,436.3V441.3M495.44,436.3V441.3M498.16,436.3V441.3M500.56,436.3V441.3M502.7,436.3V444.6" stroke="#000" stroke-width="1.5" fill="none"/>
<text x="-437.07" y="300.5" font-size="14.8" transform="rotate(-90)">0</text>
<text x="-413.19 -404.95" y="300.5" font-size="14.8" transform="rotate(-90)">10</text>
<text x="-384.72 -376.49" y="300.5" font-size="14.8" transform="rotate(-90)">20</text>
<text x="-356.36 -348.13" y="300.5" font-size="14.8" transform="rotate(-90)">30</text>
<text x="-327.98 -319.75" y="300.5" font-size="14.8" transform="rotate(-90)">40</text>
<text x="-299.84 -291.61" y="300.5" font-size="14.8" transform="rotate(-90)">50</text>
<text x="-391.79 -380.5 -371.8 -363.1 -354.4 -350.04" y="282.9" font-size="15.6" transform="rotate(-90)">Counts</text>
<text x="303.77 312.35" y="462.3" font-size="14.8">10</text>
<text x="320.52" y="453.7" font-size="14.8">0</text>
<text x="350.62 359.2" y="462.3" font-size="14.8">10</text>
<text x="366.82" y="453.7" font-size="14.8">1</text>
<text x="397.47 406.05" y="462.3" font-size="14.8">10</text>
<text x="414.06" y="453.7" font-size="14.8">2</text>
<text x="444.32 452.9" y="462.3" font-size="14.8">10</text>
<text x="461.09" y="453.7" font-size="14.8">3</text>
<text x="491.17 499.75" y="462.3" font-size="14.8">10</text>
<text x="508.16" y="453.7" font-size="14.8">4</text>
<text x="388.09 397.05 405.21 413.36 418.22" y="477.6" font-size="14.8">FL2-H</text>
<text x="331.53 341.53 351.53 357.25 368.96" y="325" font-size="15.4">10 SA</text>
<text x="331.41 342 352.58 358.87 369.46" y="345.4" font-size="15.4">37.4%</text>
<path d="M309.5,661.49 V663.1 H311.6 H313.7 H315.8 H317.9 H320 H322.1 H324.2 H326.3 H328.4 H330.5 H332.6 H334.7 H336.8 H338.9 H341 H343.1 H345.2 H347.3 H349.4 H351.5 H353.6 H355.7 H357.8 V660.14 H359.9 V659.84 H362 V659.48 H364.1 V659.12 H366.2 V658.61 H368.3 V657.56 H370.4 V656.46 H372.5 V657.27 H374.6 V652.96 H376.7 V653.93 H378.8 V654.31 H380.9 V653.67 H383 V655.3 H385.1 V656.25 H387.2 V655.79 H389.3 V656.22 H391.4 V654.35 H393.5 V654.02 H395.6 V653.74 H397.7 V654.48 H399.8 V655.41 H401.9 V653.85 H404 V653.93 H406.1 V656.67 H408.2 V657.83 H410.3 V655.48 H412.4 V653.77 H414.5 V650.66 H416.6 V659.75 H418.7 V656.36 H420.8 V654.78 H422.9 V653.87 H425 V654.73 H427.1 H428 V650.8 H429.6 V644.6 H431.2 V633.8 H432.7 V630.8 H433.8 V623 H435 V620 H437.3 V611.5 H438 V606 H439.6 V601.5 H440.4 V593 H441 V587 H442 V580 H444.2 V566.8 H446 H448 V573.5 H450 V581.6 V570.8 H451.4 V549.2 H452 V537 H452.7 V524.9 H453.4 V519.5 H455.4 V514.7 H456.8 V509 H461.5 V553.2 H463.5 V602 H465.5 V618 H466.85 V619.4 H468.2 V620.8 V629 H469.9 V630.3 H471.6 V631.6 V639.7 H472.95 V641.05 H474.3 V642.4 V650.5 H475.65 V651.85 H477 V653.2 H479 V656 V653.35 H481.1 V655.67 H483.2 V657.92 H485.3 V659.38 H487.4 V660.17 H489.5 V663.1 H491.6 H493.7 H495.8 H497.9 H500 H502.1 H504.2 H505" fill="none" stroke="#000" stroke-width="2.75" stroke-linejoin="miter" stroke-linecap="square" clip-path="url(#cB3)"/>
<rect x="456.3" y="512.4" width="6" height="3.6" fill="#000"/>
<path d="M431.22,627.25h2.51v3.99h-2.51zM432.17,627.26h3.03v3.26h-3.03zM432.67,624.7h2.61v3.47h-2.61zM432.58,622.54h2.7v4.18h-2.7zM433.33,620.97h2.75v3.58h-2.75zM434.25,619.53h2.43v3.22h-2.43zM433.57,617.28h3.03v4.66h-3.03zM435.04,616.29h2.22v4.13h-2.22zM434.55,615.65h2.74v4.21h-2.74zM434.95,614.04h2.72v4.86h-2.72zM435.27,612.2h2.79v4.32h-2.79zM436.21,610.97h2.22v4.67h-2.22zM435.6,609.08h2.22v3.56h-2.22zM435.65,608.4h2.95v3.64h-2.95zM436.3,604.84h2.63v4.16h-2.63zM436.78,604.65h2.97v3.08h-2.97zM437.97,592.6h3.1v3.75h-3.1zM438.76,591.89h2.86v3.15h-2.86zM439.52,589.05h2.85v3.77h-2.85zM439.93,588.63h2.25v3.31h-2.25zM439.79,585.29h3.32v4.61h-3.32zM440.73,583.75h2.33v4.48h-2.33zM465.4,616.92h3.37v3.35h-3.37zM465.61,618.6h3.05v4.25h-3.05zM467.05,619.1h2.52v4.74h-2.52zM467.57,620.87h2.61v4.33h-2.61zM467.65,622.47h3.12v4.05h-3.12zM467.4,624.73h3.33v4.34h-3.33zM467.48,626.08h3.03v3.91h-3.03zM469.02,628.29h3.16v4.5h-3.16z" fill="#000"/>
<line x1="309.2" y1="602.6" x2="452.6" y2="602.6" stroke="#000" stroke-width="1.45"/>
<line x1="452.6" y1="587.6" x2="452.6" y2="616" stroke="#000" stroke-width="1.2"/>
<line x1="310.4" y1="587.3" x2="310.4" y2="617.3" stroke="#000" stroke-width="2.4"/>
<rect x="309.2" y="512.4" width="195.7" height="150.5" fill="none" stroke="#000" stroke-width="1.6"/>
<path d="M302,662.55H309.2M305,657.24H309.2M305,651.93H309.2M305,646.76H309.2M305,641.3H309.2M302,633.04H309.2M305,627.73H309.2M305,622.42H309.2M305,617.25H309.2M305,611.79H309.2M302,603.53H309.2M305,598.22H309.2M305,592.91H309.2M305,587.74H309.2M305,582.28H309.2M302,574.02H309.2M305,568.71H309.2M305,563.4H309.2M305,558.23H309.2M305,552.77H309.2M302,544.51H309.2M305,539.2H309.2M305,533.89H309.2M305,528.72H309.2M305,523.26H309.2M302,515H309.2M310.6,662.9V671.2M325.12,662.9V667.9M333.61,662.9V667.9M339.63,662.9V667.9M344.31,662.9V667.9M348.13,662.9V667.9M351.35,662.9V667.9M354.15,662.9V667.9M356.62,662.9V667.9M358.83,662.9V671.2M373.34,662.9V667.9M381.83,662.9V667.9M387.86,662.9V667.9M392.53,662.9V667.9M396.35,662.9V667.9M399.58,662.9V667.9M402.38,662.9V667.9M404.84,662.9V667.9M407.05,662.9V671.2M421.57,662.9V667.9M430.06,662.9V667.9M436.08,662.9V667.9M440.76,662.9V667.9M444.58,662.9V667.9M447.8,662.9V667.9M450.6,662.9V667.9M453.07,662.9V667.9M455.27,662.9V671.2M469.79,662.9V667.9M478.28,662.9V667.9M484.31,662.9V667.9M488.98,662.9V667.9M492.8,662.9V667.9M496.03,662.9V667.9M498.83,662.9V667.9M501.29,662.9V667.9M503.5,662.9V671.2" stroke="#000" stroke-width="1.5" fill="none"/>
<text x="-663.67" y="296" font-size="14.8" transform="rotate(-90)">0</text>
<text x="-638.55 -630.31" y="296" font-size="14.8" transform="rotate(-90)">10</text>
<text x="-608.84 -600.61" y="296" font-size="14.8" transform="rotate(-90)">20</text>
<text x="-579.24 -571.01" y="296" font-size="14.8" transform="rotate(-90)">30</text>
<text x="-549.62 -541.39" y="296" font-size="14.8" transform="rotate(-90)">40</text>
<text x="-520.24 -512.01" y="296" font-size="14.8" transform="rotate(-90)">50</text>
<text x="-614.19 -602.9 -594.2 -585.5 -576.8 -572.44" y="278.5" font-size="15.6" transform="rotate(-90)">Counts</text>
<text x="299.07 307.65" y="688.9" font-size="14.8">10</text>
<text x="315.82" y="680.3" font-size="14.8">0</text>
<text x="347.3 355.87" y="688.9" font-size="14.8">10</text>
<text x="363.5" y="680.3" font-size="14.8">1</text>
<text x="395.52 404.1" y="688.9" font-size="14.8">10</text>
<text x="412.11" y="680.3" font-size="14.8">2</text>
<text x="443.75 452.32" y="688.9" font-size="14.8">10</text>
<text x="460.51" y="680.3" font-size="14.8">3</text>
<text x="491.97 500.55" y="688.9" font-size="14.8">10</text>
<text x="508.96" y="680.3" font-size="14.8">4</text>
<text x="386.14 395.1 403.26 411.41 416.27" y="704.2" font-size="14.8">FL2-H</text>
<text x="325.38 335.35 345.31 350.99 362.66" y="545.3" font-size="15.4">50 SA</text>
<text x="325.22 335.7 346.18 352.37 362.86" y="565.8" font-size="15.4">62.0%</text>
<path d="M312,879.3 V881 H314.1 H316.2 H318.3 H320.4 H322.5 H324.6 H326.7 H328.8 H330.9 H333 H335.1 H337.2 H339.3 H341.4 H343.5 H345.6 H347.7 H349.8 H351.9 H354 H356.1 H358.2 H360.3 H362.4 H364.5 V878.18 H366.6 V877.47 H368.7 V876.9 H370.8 V875.97 H372.9 V876.11 H375 V876.39 H377.1 V876.24 H379.2 V875.65 H381.3 V874.61 H383.4 V875.02 H385.5 V874.44 H387.6 V873.04 H389.7 V873.84 H391.8 V871.43 H393.9 V871.71 H396 H398.1 V872.86 H400.2 V872.06 H402.3 V870.73 H404.4 V869.14 H406.5 V875.78 H408.6 V875.38 H410.7 V873.13 H412.8 H414.9 V873.76 H417 V875.29 H419.1 V876.5 H421.2 V870.25 H423.3 V871.64 H425.4 V873.53 H427.5 V873.18 H428.9 V864.6 H429.9 V860.3 H431.5 V858.15 H432.85 V856 H434.2 V854.45 H435.5 V852.9 H436.8 V844.4 H437.3 V831.7 H438.4 V829.6 H440.5 V825.4 H441.6 V824.3 H443.1 V815.9 H443.7 V811.6 H445.8 V803 H446.9 V788.1 H448.6 H450.7 V793.5 H452.7 V798.9 V790.8 H454 V776 H454.7 V762.4 H456.1 V747.6 H456.8 V738.1 H458.1 V730 H462.8 V754.3 H464.9 V755.7 V800.3 H466.2 V801.6 V827.3 H467.55 V827.95 H468.9 V828.6 V844.9 H471 V830 H473 V840.8 H475 V844.9 V851.6 H476.35 V852.95 H477.7 V854.3 V862.4 H479.05 V863.7 H480.4 V865 V869.2 H482.1 V871.2 H483.8 V873.2 V874.15 H485.9 V874 H488 V874.53 H490.1 V875.01 H492.2 V876.42 H494.3 V877.43 H496.4 V881 H498.5 H500.6 H502.7 H504.8 H505.5" fill="none" stroke="#000" stroke-width="2.75" stroke-linejoin="miter" stroke-linecap="square" clip-path="url(#cB4)"/>
<rect x="458" y="733.2" width="5.8" height="4.8" fill="#000"/>
<path d="M436.05,834.61h3.28v3.97h-3.28zM437,834.39h2.4v3.05h-2.4zM437.77,830.72h2.59v4.83h-2.59zM437.85,830.31h2.78v4.85h-2.78zM438.99,829.54h2.28v3.23h-2.28zM438.78,827.6h2.44v4.37h-2.44zM438.47,826h3.38v3.24h-3.38zM439.73,824.3h3.21v3.5h-3.21zM439.27,824.66h2.72v3.83h-2.72zM439.91,822.55h2.77v4.53h-2.77zM440.19,819.5h2.73v4.51h-2.73zM440.21,818.3h3.34v4.52h-3.34zM441.25,816.3h2.78v4.91h-2.78zM441.25,814.68h2.66v3.58h-2.66zM442.01,813.74h3.1v4.85h-3.1zM442.96,812.56h2.48v3.97h-2.48zM442.55,809.44h2.79v4.73h-2.79zM444.15,800.88h2.73v4.89h-2.73zM445.33,799.53h2.82v4.41h-2.82zM445.3,798.07h3.2v4.47h-3.2zM447.06,796.63h2.42v4.29h-2.42zM447.55,794.55h2.2v4.75h-2.2zM447.33,793.48h3.28v4.25h-3.28zM448.36,792.68h2.25v3.39h-2.25zM449.17,794.51h2.91v3.67h-2.91zM451.01,796.18h3.12v3.15h-3.12zM467.25,827.9h2.32v3.22h-2.32zM466.42,830.21h2.87v3.63h-2.87zM467.78,832.03h2.75v3.19h-2.75zM467.44,832.72h3.02v3.89h-3.02zM468.13,835.98h2.32v3.3h-2.32zM468.17,835.51h2.84v4.87h-2.84zM467.54,837.91h3.19v3.99h-3.19zM469.12,840.1h2.93v4.48h-2.93zM471.63,828.93h2.74v4.9h-2.74zM471.47,832.58h3.34v4.09h-3.34zM472.3,833.86h2.98v4.41h-2.98zM471.55,834.78h2.88v4.84h-2.88zM471.38,837.44h3.39v3.3h-3.39zM472.31,838.04h3.07v4.73h-3.07zM472.09,842.18h3.36v3.15h-3.36z" fill="#000"/>
<line x1="311.7" y1="820.4" x2="452" y2="820.4" stroke="#000" stroke-width="1.45"/>
<line x1="452" y1="806" x2="452" y2="835" stroke="#000" stroke-width="1.2"/>
<rect x="311.7" y="733.2" width="194.2" height="147.6" fill="none" stroke="#000" stroke-width="1.6"/>
<path d="M304.5,880.45H311.7M307.5,875.25H311.7M307.5,870.05H311.7M307.5,864.99H311.7M307.5,859.65H311.7M304.5,851.56H311.7M307.5,846.36H311.7M307.5,841.16H311.7M307.5,836.1H311.7M307.5,830.76H311.7M304.5,822.67H311.7M307.5,817.47H311.7M307.5,812.27H311.7M307.5,807.21H311.7M307.5,801.87H311.7M304.5,793.78H311.7M307.5,788.58H311.7M307.5,783.38H311.7M307.5,778.32H311.7M307.5,772.98H311.7M304.5,764.89H311.7M307.5,759.69H311.7M307.5,754.49H311.7M307.5,749.43H311.7M307.5,744.09H311.7M304.5,736H311.7M313.3,880.8V889.1M327.66,880.8V885.8M336.06,880.8V885.8M342.02,880.8V885.8M346.64,880.8V885.8M350.42,880.8V885.8M353.61,880.8V885.8M356.38,880.8V885.8M358.82,880.8V885.8M361,880.8V889.1M375.36,880.8V885.8M383.76,880.8V885.8M389.72,880.8V885.8M394.34,880.8V885.8M398.12,880.8V885.8M401.31,880.8V885.8M404.08,880.8V885.8M406.52,880.8V885.8M408.7,880.8V889.1M423.06,880.8V885.8M431.46,880.8V885.8M437.42,880.8V885.8M442.04,880.8V885.8M445.82,880.8V885.8M449.01,880.8V885.8M451.78,880.8V885.8M454.22,880.8V885.8M456.4,880.8V889.1M470.76,880.8V885.8M479.16,880.8V885.8M485.12,880.8V885.8M489.74,880.8V885.8M493.52,880.8V885.8M496.71,880.8V885.8M499.48,880.8V885.8M501.92,880.8V885.8M504.1,880.8V889.1" stroke="#000" stroke-width="1.5" fill="none"/>
<text x="-881.57" y="298.5" font-size="14.8" transform="rotate(-90)">0</text>
<text x="-857.07 -848.83" y="298.5" font-size="14.8" transform="rotate(-90)">10</text>
<text x="-827.98 -819.75" y="298.5" font-size="14.8" transform="rotate(-90)">20</text>
<text x="-799 -790.77" y="298.5" font-size="14.8" transform="rotate(-90)">30</text>
<text x="-770 -761.77" y="298.5" font-size="14.8" transform="rotate(-90)">40</text>
<text x="-741.24 -733.01" y="298.5" font-size="14.8" transform="rotate(-90)">50</text>
<text x="-834.69 -823.4 -814.7 -806 -797.3 -792.94" y="280.9" font-size="15.6" transform="rotate(-90)">Counts</text>
<text x="301.77 310.35" y="906.8" font-size="14.8">10</text>
<text x="318.52" y="898.2" font-size="14.8">0</text>
<text x="349.47 358.05" y="906.8" font-size="14.8">10</text>
<text x="365.67" y="898.2" font-size="14.8">1</text>
<text x="397.17 405.75" y="906.8" font-size="14.8">10</text>
<text x="413.76" y="898.2" font-size="14.8">2</text>
<text x="444.87 453.45" y="906.8" font-size="14.8">10</text>
<text x="461.64" y="898.2" font-size="14.8">3</text>
<text x="492.57 501.15" y="906.8" font-size="14.8">10</text>
<text x="509.56" y="898.2" font-size="14.8">4</text>
<text x="387.79 396.75 404.91 413.06 417.92" y="922.1" font-size="14.8">FL2-H</text>
<text x="328.73 338.23 347.73 357.23 362.45 373.66" y="763.6" font-size="15.4">100 SA</text>
<text x="334.68 345.17 355.66 361.87 372.36" y="785.1" font-size="15.4">56.1%</text>
<path d="M313,1100.8 V1103 H315.1 H317.2 H319.3 H321.4 H323.5 H325.6 H327.7 H329.8 H331.9 H334 H336.1 H338.2 H340.3 H342.4 H344.5 H346.6 H348.7 H350.8 H352.9 H355 V1099.65 H357.1 V1099.17 H359.2 V1099.41 H361.3 V1098.93 H363.4 V1099.03 H365.5 V1098.36 H367.6 V1097.28 H369.7 V1098.11 H371.8 V1095.87 H373.9 H376 V1094.86 H378.1 V1095.61 H380.2 H382.3 V1094.02 H384.4 V1093.85 H386.5 V1093.96 H388.6 V1093.5 H390.7 V1092.64 H392.8 V1091.31 H394.9 V1090.85 H397 V1091.61 H399.1 V1092.5 H401.2 V1094.27 H403.3 V1094.08 H405.4 H407.5 V1093.2 H409.6 V1093.33 H411.7 V1095.1 H413.8 V1096.17 H415.9 V1093.83 H418 V1092.95 H420.1 V1092.48 H422.2 H424.3 V1093.42 H425 V1091.31 H427 V1089.2 H429 V1087.85 H431.05 V1086.5 H433.1 V1084.45 H434.8 V1082.4 H436.5 V1079.7 H437.85 V1077 H439.2 V1074.3 H440.55 V1071.6 H441.9 V1064.9 H443.9 V1058.1 H446 V1052.7 H448 V1050 H449.3 H451.4 V1056.8 H453.4 V1066.2 V1055.4 H455.4 V1041.9 H456.1 V997.3 H457.4 V956.8 H458.1 V951 H464.2 V963.5 H465.5 V966.2 V1023 H467.6 V1024.3 V1079.7 H468.95 V1081.05 H470.3 V1082.4 V1077 H472.3 H473.65 V1078.35 H475 V1079.7 H477 V1085.1 H478.4 V1091.9 V1096 H480.4 V1097.3 V1096.65 H481.75 V1096 H483.1 V1095.73 H485.2 V1096.91 H487.3 V1099.84 H489.4 V1103 H491.5 H493.6 H495.7 H497.8 H499.9 H502 H504.1 H506.2" fill="none" stroke="#000" stroke-width="2.75" stroke-linejoin="miter" stroke-linecap="square" clip-path="url(#cB5)"/>
<rect x="458.1" y="955" width="6.1" height="8.5" fill="#000"/>
<path d="M449.31,1054.67h3.36v4.27h-3.36zM450.35,1057.12h2.96v4.34h-2.96zM450.77,1058.29h2.42v3.53h-2.42zM450.87,1060.2h2.44v3.59h-2.44zM451.42,1061.78h3.3v3.62h-3.3zM451.65,1064.08h3.39v3.43h-3.39z" fill="#000"/>
<line x1="312.8" y1="1042" x2="451" y2="1042" stroke="#000" stroke-width="1.45"/>
<line x1="451" y1="1027.2" x2="451" y2="1052.8" stroke="#000" stroke-width="1.2"/>
<line x1="314" y1="1027.7" x2="314" y2="1057.7" stroke="#000" stroke-width="2.4"/>
<rect x="312.8" y="955" width="193.7" height="147.8" fill="none" stroke="#000" stroke-width="1.6"/>
<path d="M305.6,1102.45H312.8M308.6,1097.24H312.8M308.6,1092.03H312.8M308.6,1086.96H312.8M308.6,1081.61H312.8M305.6,1073.5H312.8M308.6,1068.29H312.8M308.6,1063.08H312.8M308.6,1058.01H312.8M308.6,1052.66H312.8M305.6,1044.55H312.8M308.6,1039.34H312.8M308.6,1034.13H312.8M308.6,1029.06H312.8M308.6,1023.71H312.8M305.6,1015.6H312.8M308.6,1010.39H312.8M308.6,1005.18H312.8M308.6,1000.11H312.8M308.6,994.76H312.8M305.6,986.65H312.8M308.6,981.44H312.8M308.6,976.23H312.8M308.6,971.16H312.8M308.6,965.81H312.8M305.6,957.7H312.8M314.4,1102.8V1111.1M328.77,1102.8V1107.8M337.18,1102.8V1107.8M343.15,1102.8V1107.8M347.78,1102.8V1107.8M351.56,1102.8V1107.8M354.75,1102.8V1107.8M357.52,1102.8V1107.8M359.97,1102.8V1107.8M362.15,1102.8V1111.1M376.52,1102.8V1107.8M384.93,1102.8V1107.8M390.9,1102.8V1107.8M395.53,1102.8V1107.8M399.31,1102.8V1107.8M402.5,1102.8V1107.8M405.27,1102.8V1107.8M407.72,1102.8V1107.8M409.9,1102.8V1111.1M424.27,1102.8V1107.8M432.68,1102.8V1107.8M438.65,1102.8V1107.8M443.28,1102.8V1107.8M447.06,1102.8V1107.8M450.25,1102.8V1107.8M453.02,1102.8V1107.8M455.47,1102.8V1107.8M457.65,1102.8V1111.1M472.02,1102.8V1107.8M480.43,1102.8V1107.8M486.4,1102.8V1107.8M491.03,1102.8V1107.8M494.81,1102.8V1107.8M498,1102.8V1107.8M500.77,1102.8V1107.8M503.22,1102.8V1107.8M505.4,1102.8V1111.1" stroke="#000" stroke-width="1.5" fill="none"/>
<text x="-1103.57" y="299.6" font-size="14.8" transform="rotate(-90)">0</text>
<text x="-1079.01 -1070.77" y="299.6" font-size="14.8" transform="rotate(-90)">10</text>
<text x="-1049.86 -1041.63" y="299.6" font-size="14.8" transform="rotate(-90)">20</text>
<text x="-1020.82 -1012.59" y="299.6" font-size="14.8" transform="rotate(-90)">30</text>
<text x="-991.76 -983.53" y="299.6" font-size="14.8" transform="rotate(-90)">40</text>
<text x="-962.94 -954.71" y="299.6" font-size="14.8" transform="rotate(-90)">50</text>
<text x="-1055.99 -1044.7 -1036 -1027.3 -1018.6 -1014.24" y="281.9" font-size="15.6" transform="rotate(-90)">Counts</text>
<text x="302.87 311.45" y="1128.8" font-size="14.8">10</text>
<text x="319.62" y="1120.2" font-size="14.8">0</text>
<text x="350.62 359.2" y="1128.8" font-size="14.8">10</text>
<text x="366.82" y="1120.2" font-size="14.8">1</text>
<text x="398.37 406.95" y="1128.8" font-size="14.8">10</text>
<text x="414.96" y="1120.2" font-size="14.8">2</text>
<text x="446.12 454.7" y="1128.8" font-size="14.8">10</text>
<text x="462.89" y="1120.2" font-size="14.8">3</text>
<text x="493.87 502.45" y="1128.8" font-size="14.8">10</text>
<text x="510.86" y="1120.2" font-size="14.8">4</text>
<text x="388.99 397.95 406.11 414.26 419.12" y="1144.1" font-size="14.8">FL2-H</text>
<text x="328.33 338.53 348.73 358.93 364.85 376.76" y="987.6" font-size="15.4">200 SA</text>
<text x="328.51 339.22 349.92 356.34 367.05 377.76" y="1008.2" font-size="15.4">36.44%</text>
</svg>
</body></html>
